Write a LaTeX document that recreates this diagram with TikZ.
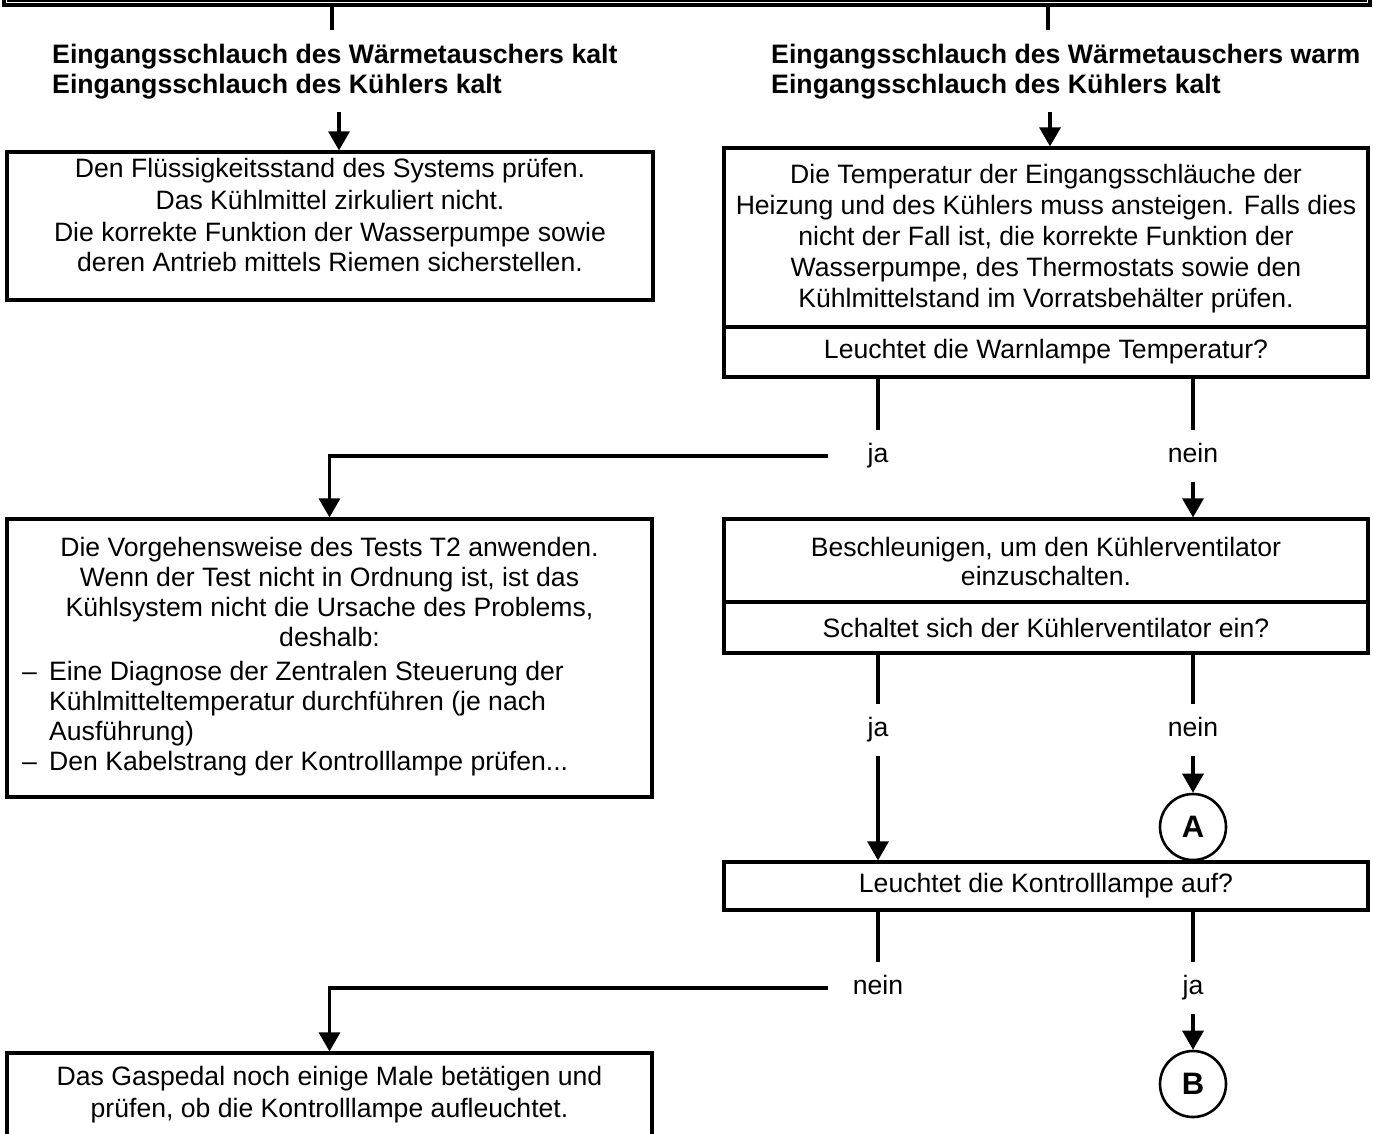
\documentclass[tikz,border=0pt]{standalone}
\usepackage{fontspec}
\setmainfont{Liberation Sans}
\usetikzlibrary{arrows.meta}
\begin{document}
\begin{tikzpicture}[x=1pt,y=-1pt]
\tikzset{
  boxframe/.style={draw, line width=3.2pt, inner sep=0pt},
  txt/.style={font=\fontsize{26.6}{30}\selectfont, align=center, inner sep=0pt},
  hd/.style={font=\bfseries\fontsize{26.7}{30}\selectfont, align=left, inner sep=0pt},
  lbl/.style={font=\fontsize{26.6}{30}\selectfont, inner sep=0pt, text height=19pt, text depth=6pt, minimum height=52pt, minimum width=100pt},
  conn/.style={line width=3.2pt},
  arr/.style={line width=3.2pt, -{Triangle[length=19pt,width=21pt]}},
  circ/.style={draw, circle, line width=2.6pt, minimum size=66pt, inner sep=0pt, font=\bfseries\fontsize{31}{34}\selectfont},
}
\useasboundingbox (0,0) rectangle (1373,1133);
% top frame (cut off)
\draw[line width=3.2pt] (4,-20) -- (4,5) -- (1370,5) -- (1370,-20);
\draw[line width=1.4pt] (8,-20) -- (8,1) -- (1366,1) -- (1366,-20);
\coordinate (s1) at (332,5);
\coordinate (s2) at (1048,5);
\draw[conn] (s1) -- ++(0,25);
\draw[conn] (s2) -- ++(0,25);
% headings
\node[hd, anchor=west] (hl) at (52,72) {Eingangsschlauch des Wärmetauschers kalt\\Eingangsschlauch des Kühlers kalt};
\node[hd, anchor=west] (hr) at (771,72) {Eingangsschlauch des Wärmetauschers warm\\Eingangsschlauch des Kühlers kalt};
% box 1
\node[boxframe, minimum width=646pt, minimum height=148pt] (box1) at (330,226) {};
\node[txt, font=\fontsize{26.6}{30}\selectfont] (t1) at (330,215) {Den Flüssigkeitsstand des Systems prüfen.\\[2pt]Das Kühlmittel zirkuliert nicht.\\[2pt]Die korrekte Funktion der Wasserpumpe sowie\\deren Antrieb mittels Riemen sicherstellen.};
% box 2
\node[boxframe, minimum width=644pt, minimum height=179pt] (b2) at (1046,237.5) {};
\node[txt, font=\fontsize{26.6}{31}\selectfont] (t2text) at (1046,239) {Die Temperatur der Eingangsschläuche der\\Heizung und des Kühlers muss ansteigen. Falls dies\\nicht der Fall ist, die korrekte Funktion der\\Wasserpumpe, des Thermostats sowie den\\Kühlmittelstand im Vorratsbehälter prüfen.};
\node[boxframe, txt, minimum width=644pt, minimum height=50pt] (q1) at (1046,352) {Leuchtet die Warnlampe Temperatur?};
% arrows from headings
\coordinate (a1) at (339,112);
\coordinate (a2) at (1050,112);
\draw[arr] (a1) -- (a1 |- box1.north);
\draw[arr] (a2) -- (a2 |- b2.north);
% T2 box
\node[boxframe, minimum width=645pt, minimum height=278pt] (t2) at (329.5,658) {};
\node[txt] (t2a) at (329.5,592) {Die Vorgehensweise des Tests T2 anwenden.\\Wenn der Test nicht in Ordnung ist, ist das\\Kühlsystem nicht die Ursache des Problems,\\deshalb:};
\node[txt, align=left, anchor=west] (t2b) at (22,719) {\makebox[27pt][l]{–}Eine Diagnose der Zentralen Steuerung der\\\hspace*{27pt}Kühlmitteltemperatur durchführen (je nach\\\hspace*{27pt}Ausführung)\\\makebox[27pt][l]{–}Den Kabelstrang der Kontrolllampe prüfen...};
% box 3
\node[boxframe, minimum width=644pt, minimum height=83pt] (b3) at (1046,560.5) {};
\node[txt, font=\fontsize{26.6}{29}\selectfont] (t3) at (1046,561) {Beschleunigen, um den Kühlerventilator\\einzuschalten.};
\node[boxframe, txt, minimum width=644pt, minimum height=51pt] (q2) at (1046,627.5) {Schaltet sich der Kühlerventilator ein?};
% box 4
\node[boxframe, txt, minimum width=644pt, minimum height=48pt] (q3) at (1046,886) {Leuchtet die Kontrolllampe auf?};
% Gaspedal box
\node[boxframe, minimum width=645pt, minimum height=150pt] (g) at (329.5,1128) {};
\node[txt, font=\fontsize{26.6}{32}\selectfont] (gt) at (329.5,1095) {Das Gaspedal noch einige Male betätigen und\\prüfen, ob die Kontrolllampe aufleuchtet.};
% row 1
\node[lbl] (ja1) at (878,456) {ja};
\node[lbl] (nein1) at (1193,456) {nein};
\draw[conn] (q1.south -| ja1) -- (ja1.north);
\draw[conn] (q1.south -| nein1) -- (nein1.north);
\draw[arr] (ja1.west) -| (t2.north);
\draw[arr] (nein1.south) -- (b3.north -| nein1);
% row 2
\node[lbl] (ja2) at (878,730) {ja};
\node[lbl] (nein2) at (1193,730) {nein};
\draw[conn] (q2.south -| ja2) -- (ja2.north);
\draw[conn] (q2.south -| nein2) -- (nein2.north);
\draw[arr] (ja2.south) -- (q3.north -| ja2);
\node[circ] (A) at (1193,827) {A};
\draw[arr] (nein2.south) -- (A.north);
% row 3
\node[lbl] (nein3) at (878,988) {nein};
\node[lbl] (ja3) at (1193,988) {ja};
\draw[conn] (q3.south -| nein3) -- (nein3.north);
\draw[conn] (q3.south -| ja3) -- (ja3.north);
\draw[arr] (nein3.west) -| (g.north);
\node[circ] (B) at (1193,1084) {B};
\draw[arr] (ja3.south) -- (B.north);
\end{tikzpicture}
\end{document}
